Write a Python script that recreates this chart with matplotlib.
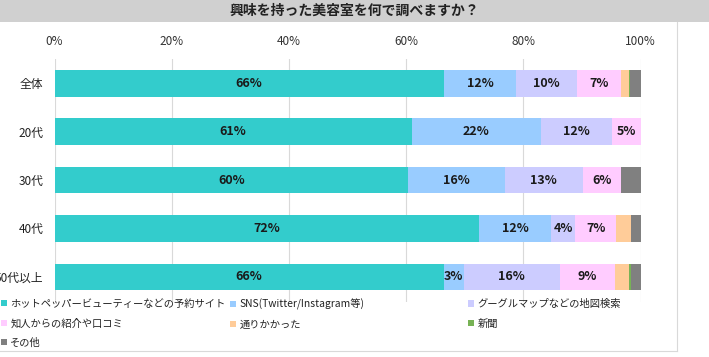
import matplotlib
matplotlib.use("Agg")
import matplotlib.pyplot as plt
from matplotlib.patches import Rectangle, Patch
from matplotlib.lines import Line2D

plt.rcParams['font.family'] = ['Noto Sans CJK JP', 'DejaVu Sans']

# data (percent of respondents)
groups = ['全体', '20代', '30代', '40代', '50代以上']
series_names = ['ホットペッパービューティーなどの予約サイト', 'SNS(Twitter/Instagram等)',
                'グーグルマップなどの地図検索', '知人からの紹介や口コミ', '通りかかった', '新聞', 'その他']
colors = ['#33CCCC', '#99CCFF', '#CCCCFF', '#FFCCFF', '#FFCC99', '#77B255', '#808080']
reserve_site = [66.4, 61.0, 60.4, 72.4, 66.4]
sns = [12.4, 22.0, 16.4, 12.4, 3.4]
map_search = [10.4, 12.1, 13.4, 4.0, 16.4]
word_of_mouth = [7.4, 4.9, 6.4, 7.1, 9.4]
passing_by = [1.4, 0.0, 0.0, 2.4, 2.4]
newspaper = [0.2, 0.0, 0.0, 0.0, 0.4]
other = [1.8, 0.0, 3.4, 1.7, 1.6]
xticks = [0, 20, 40, 60, 80, 100]
title = '興味を持った美容室を何で調べますか？'

series = [reserve_site, sns, map_search, word_of_mouth, passing_by, newspaper, other]

W, H = 709, 357
fig = plt.figure(figsize=(W / 100, H / 100), dpi=100)

# title band and panel frame
fig.patches.append(Rectangle((0, 1 - 22 / H), 1, 22 / H, transform=fig.transFigure,
                             facecolor='#D0D0D0', edgecolor='none', zorder=0))
fig.text(0.5, 1 - 11 / H, title, ha='center', va='center', fontsize=10,
         fontweight='bold', color='#222222')
fig.lines.append(Line2D([677 / W, 677 / W], [1 - 351 / H, 1 - 22 / H], transform=fig.transFigure,
                        color='#D9D9D9', lw=0.8))
fig.lines.append(Line2D([0, 677 / W], [1 - 351 / H, 1 - 351 / H], transform=fig.transFigure,
                        color='#D9D9D9', lw=0.8))

ax = fig.add_axes([54.5 / W, 1 - 302 / H, 586 / W, 243 / H])
ypos = list(range(len(groups)))
left = [0.0] * len(groups)
for k, (vals, col, name) in enumerate(zip(series, colors, series_names)):
    ax.barh(ypos, vals, left=left, height=0.55, color=col, label=name, zorder=2)
    # only the four main answers carry value labels
    if k < 4:
        for i, v in enumerate(vals):
            if round(v) >= 3:
                ax.text(left[i] + v / 2, i, f'{round(v)}%', ha='center', va='center',
                        fontsize=9, fontweight='bold', color='#1a1a1a', zorder=3)
    left = [l + v for l, v in zip(left, vals)]

ax.set_xlim(0, 100)
ax.set_ylim(4.52, -0.5)
ax.xaxis.tick_top()
ax.set_xticks(xticks)
ax.set_xticklabels([f'{t}%' for t in xticks], fontsize=8.5, color='#333333')
ax.set_yticks(ypos)
ax.set_yticklabels(groups, fontsize=8.5, color='#222222')
ax.tick_params(axis='x', length=0, pad=8)
ax.tick_params(axis='y', length=0, pad=8)
ax.grid(axis='x', color='#D9D9D9', lw=0.8, zorder=0)
for s in ax.spines.values():
    s.set_visible(False)
ax.set_facecolor('none')

# legend, three columns laid out row by row
cols = [[0, 3, 6], [1, 4], [2, 5]]
col_x = [0 / W, 229 / W, 467 / W]
for idxs, x in zip(cols, col_x):
    handles = [Patch(facecolor=colors[i], edgecolor='none') for i in idxs]
    fig.legend(handles, [series_names[i] for i in idxs], loc='upper left',
               bbox_to_anchor=(x, 1 - 298 / H), frameon=False, fontsize=7.4,
               handlelength=0.55, handleheight=0.55, handletextpad=0.35,
               labelspacing=0.9, borderaxespad=0, borderpad=0.1,
               labelcolor='#222222')

fig.savefig('out.png', dpi=100)
